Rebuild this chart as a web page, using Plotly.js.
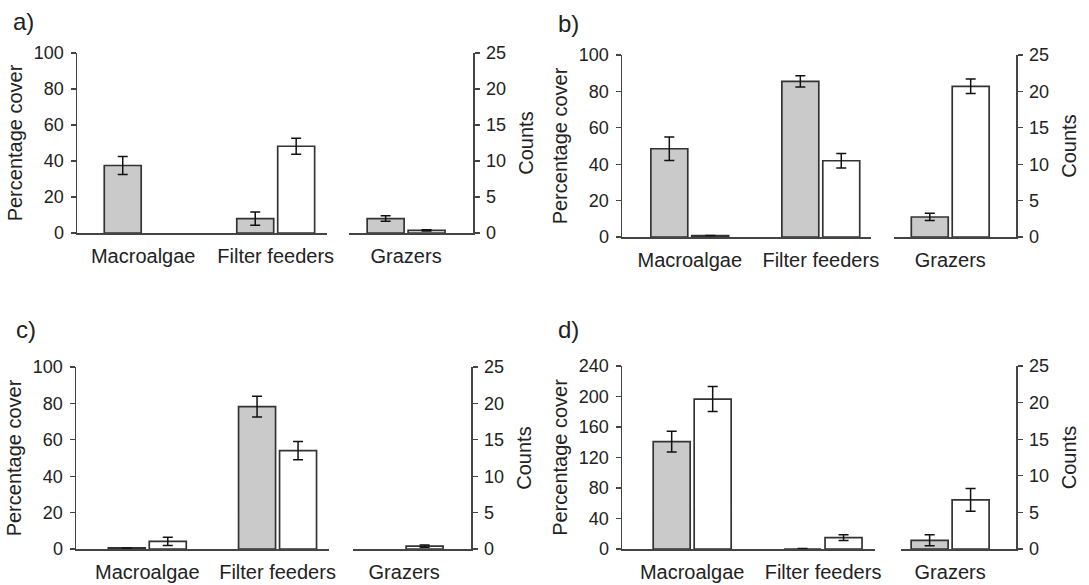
<!DOCTYPE html>
<html>
<head>
<meta charset="utf-8">
<script src="https://cdn.plot.ly/plotly-3.0.1.min.js"></script>
<style>
  html, body { margin: 0; padding: 0; background: #fff; }
  #wrap { position: relative; width: 1089px; height: 585px; overflow: hidden; }
  .panel { position: absolute; }
</style>
</head>
<body>
<div id="wrap">
  <div id="pa" class="panel"></div>
  <div id="pb" class="panel"></div>
  <div id="pc" class="panel"></div>
  <div id="pd" class="panel"></div>
</div>
<script>
// ---------------- DATA ----------------
// Categories: Macroalgae and Filter feeders use the left axis (percentage cover),
// Grazers uses the right axis (counts).
const coverCategories = ["Macroalgae", "Filter feeders"];
const countCategories = ["Grazers"];
const panelLabels = ["a)", "b)", "c)", "d)"];
const leftTitle = "Percentage cover";
const rightTitle = "Counts";

// Panel a
const aGreyCover = [37.5, 8.0];
const aGreyCoverErr = [5.0, 3.7];
const aWhiteCover = [null, 48.2];
const aWhiteCoverErr = [0, 4.4];
const aGreyCount = [2.0];
const aGreyCountErr = [0.38];
const aWhiteCount = [0.36];
const aWhiteCountErr = [0.08];

// Panel b
const bGreyCover = [48.5, 85.5];
const bGreyCoverErr = [6.4, 3.1];
const bWhiteCover = [0.8, 41.9];
const bWhiteCoverErr = [0, 4.0];
const bGreyCount = [2.75];
const bGreyCountErr = [0.5];
const bWhiteCount = [20.7];
const bWhiteCountErr = [1.0];

// Panel c
const cGreyCover = [0.6, 78.2];
const cGreyCoverErr = [0, 5.7];
const cWhiteCover = [4.2, 54.0];
const cWhiteCoverErr = [2.3, 5.0];
const cGreyCount = [null];
const cGreyCountErr = [0];
const cWhiteCount = [0.4];
const cWhiteCountErr = [0.15];

// Panel d
const dGreyCover = [140.8, 0];
const dGreyCoverErr = [13.6, 0.6];
const dWhiteCover = [196.6, 14.8];
const dWhiteCoverErr = [16.4, 3.8];
const dGreyCount = [1.19];
const dGreyCountErr = [0.75];
const dWhiteCount = [6.71];
const dWhiteCountErr = [1.55];

// left axis ranges / tick steps
const leftMax = [100, 100, 100, 240];
const leftStep = [20, 20, 20, 40];
const rightMax = 25;
const rightStep = 5;

// ---------------- LAYOUT GEOMETRY (pixels) ----------------
const FONT = "Liberation Sans, Arial, Helvetica, sans-serif";
const INK = "#222";
const AXIS = "#444";
const GREY = "#cacaca";

const geoms = [
  {id:"pa", left:0,   top:0,   w:545, h:290, L:76.7, R:473.3, T:53.3, B:233.3, s1e:326.7, s2s:349.3, c0:143.0, c1:275.7, cg:406.3, lx:11,  ly:22},
  {id:"pb", left:545, top:0,   w:544, h:290, L:76.7, R:471.5, T:55.0, B:237.0, s1e:326.6, s2s:349.2, c0:144.6, c1:275.9, cg:405.6, lx:11,  ly:24},
  {id:"pc", left:0,   top:290, w:545, h:295, L:76.4, R:471.5, T:77.3, B:259.3, s1e:329.7, s2s:353.3, c0:147.7, c1:278.0, cg:404.6, lx:14,  ly:40},
  {id:"pd", left:545, top:290, w:544, h:295, L:77.4, R:471.5, T:76.3, B:258.7, s1e:330.7, s2s:356.4, c0:147.6, c1:278.5, cg:405.6, lx:11,  ly:40}
];
const BAR_W = 37;   // px
const BAR_GAP = 4;  // px

const panelData = [
  {gc:aGreyCover, gce:aGreyCoverErr, wc:aWhiteCover, wce:aWhiteCoverErr, gn:aGreyCount, gne:aGreyCountErr, wn:aWhiteCount, wne:aWhiteCountErr},
  {gc:bGreyCover, gce:bGreyCoverErr, wc:bWhiteCover, wce:bWhiteCoverErr, gn:bGreyCount, gne:bGreyCountErr, wn:bWhiteCount, wne:bWhiteCountErr},
  {gc:cGreyCover, gce:cGreyCoverErr, wc:cWhiteCover, wce:cWhiteCoverErr, gn:cGreyCount, gne:cGreyCountErr, wn:cWhiteCount, wne:cWhiteCountErr},
  {gc:dGreyCover, gce:dGreyCoverErr, wc:dWhiteCover, wce:dWhiteCoverErr, gn:dGreyCount, gne:dGreyCountErr, wn:dWhiteCount, wne:dWhiteCountErr}
];

function errObj(arr) {
  return {type:"data", array:arr, visible:true, color:"#111", thickness:1.5, width:5};
}

function barTrace(cats, vals, errs, fill, xa, ya, s) {
  const w = BAR_W / s;
  const isGrey = fill === GREY;
  return {
    type:"bar", x:cats, y:vals, xaxis:xa, yaxis:ya,
    width:w, offset: isGrey ? -(BAR_W + BAR_GAP/2)/s : (BAR_GAP/2)/s,
    marker:{color:fill, line:{color:"#333", width:1.7}},
    error_y: errObj(errs),
    hoverinfo:"skip", showlegend:false, cliponaxis:false
  };
}

geoms.forEach(function(g, i) {
  const el = document.getElementById(g.id);
  el.style.left = g.left + "px";
  el.style.top = g.top + "px";
  el.style.width = g.w + "px";
  el.style.height = g.h + "px";

  const d = panelData[i];
  const s = g.c1 - g.c0;
  const PW = g.R - g.L;
  const PH = g.B - g.T;

  const traces = [
    barTrace(coverCategories, d.gc, d.gce, GREY, "x", "y", s),
    barTrace(coverCategories, d.wc, d.wce, "#ffffff", "x", "y", s),
    barTrace(countCategories, d.gn, d.gne, GREY, "x2", "y2", s),
    barTrace(countCategories, d.wn, d.wne, "#ffffff", "x2", "y2", s)
  ];

  const yTicks = [];
  for (let v = 0; v <= leftMax[i]; v += leftStep[i]) yTicks.push(v);
  const y2Ticks = [];
  for (let v = 0; v <= rightMax; v += rightStep) y2Ticks.push(v);

  const commonX = {
    type:"category", showline:true, linecolor:AXIS, linewidth:1.5,
    ticks:"", showgrid:false, zeroline:false, fixedrange:true,
    tickfont:{family:FONT, size:20, color:INK}, ticklabelstandoff:4
  };
  const commonY = {
    showline:true, linecolor:AXIS, linewidth:1.5, ticks:"outside", ticklen:5,
    tickcolor:AXIS, tickwidth:1.3, showgrid:false, zeroline:false, fixedrange:true,
    tickfont:{family:FONT, size:18, color:INK}, ticklabelstandoff:3
  };

  const layout = {
    width:g.w, height:g.h,
    margin:{l:g.L, r:g.w - g.R, t:g.T, b:g.h - g.B, pad:0},
    paper_bgcolor:"#fff", plot_bgcolor:"rgba(0,0,0,0)",
    barmode:"overlay", showlegend:false,
    font:{family:FONT, color:INK},
    xaxis: Object.assign({}, commonX, {
      domain:[0, (g.s1e - g.L)/PW], anchor:"y",
      categoryorder:"array", categoryarray:coverCategories,
      range:[(g.L - g.c0)/s, (g.s1e - g.c0)/s]
    }),
    xaxis2: Object.assign({}, commonX, {
      domain:[(g.s2s - g.L)/PW, 1], anchor:"y2",
      categoryorder:"array", categoryarray:countCategories,
      range:[(g.s2s - g.cg)/s, (g.R - g.cg)/s]
    }),
    yaxis: Object.assign({}, commonY, {
      anchor:"x", side:"left", range:[0, leftMax[i]], tickvals:yTicks,
      title:{text:leftTitle, font:{family:FONT, size:20, color:INK}, standoff:6}
    }),
    yaxis2: Object.assign({}, commonY, {
      anchor:"x2", side:"right", range:[0, rightMax], tickvals:y2Ticks,
      title:{text:rightTitle, font:{family:FONT, size:20, color:INK}, standoff:14}
    }),
    annotations:[{
      text:panelLabels[i], xref:"paper", yref:"paper",
      x:(g.lx - g.L)/PW, y:(g.B - g.ly)/PH, xanchor:"left", yanchor:"middle",
      showarrow:false, font:{family:FONT, size:24, color:INK}
    }]
  };

  Plotly.newPlot(el, traces, layout, {staticPlot:true, displayModeBar:false});
});
</script>
</body>
</html>
